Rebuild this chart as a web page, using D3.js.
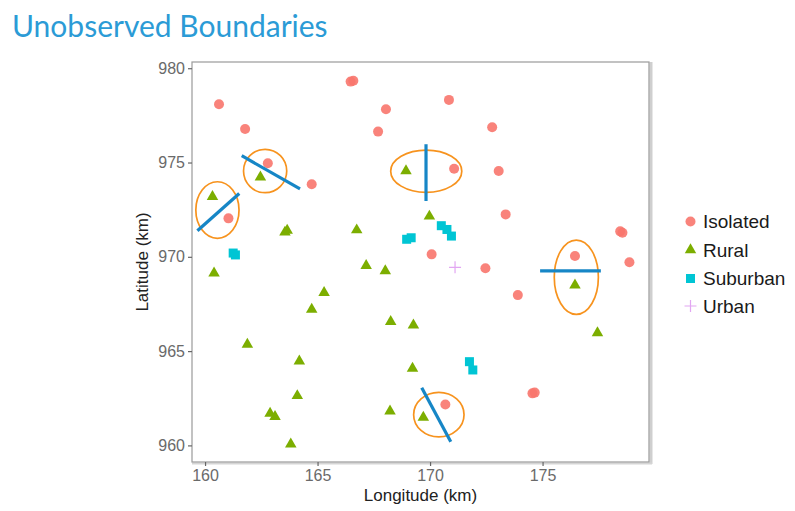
<!DOCTYPE html>
<html><head><meta charset="utf-8">
<script src="https://cdn.jsdelivr.net/npm/d3@7"></script>
<style>body{margin:0;background:#fff}</style>
</head><body><svg id="c" width="795" height="511"></svg>
<script>
const categories = ["Isolated","Rural","Suburban","Urban"];
const colors = ["#F8766D","#7CAE00","#00C5D4","#E2A6F2"];

const isolatedLon = [160.62,161.78,162.79,164.74,161.04,166.47,166.59,168.04,167.69,170.84,172.76,171.07,173.05,173.36,178.45,178.55,170.07,176.44,178.86,172.46,173.9,174.55,174.65,170.68];
const isolatedLat = [978.09,976.78,974.96,973.85,972.04,979.29,979.34,977.82,976.64,978.32,976.87,974.67,974.55,972.25,971.35,971.28,970.13,970.04,969.71,969.39,967.97,962.76,962.8,962.17];

const ruralLon = [160.33,162.46,163.55,163.65,166.74,168.93,169.97,160.4,167.16,168.01,165.29,164.74,168.25,169.26,161.88,164.19,169.22,164.1,162.89,163.11,168.22,163.81,176.44,177.44,169.7];
const ruralLat = [973.19,974.22,971.3,971.4,971.42,974.55,972.15,969.13,969.53,969.25,968.1,967.21,966.56,966.38,965.36,964.47,964.08,962.63,961.7,961.52,961.82,960.07,968.5,965.97,961.48];

const suburbanLon = [161.25,161.35,168.96,169.16,170.5,170.75,170.95,171.75,171.9];
const suburbanLat = [970.2,970.1,970.93,971.01,971.65,971.45,971.1,964.44,964.0];

const urbanLon = [171.11];
const urbanLat = [969.44];

// ellipse centres and radii (km)
const ellipseLon = [160.55,162.67,169.83,176.5,170.39];
const ellipseLat = [972.48,974.55,974.54,968.92,961.63];
const ellipseRLon = [0.96,0.96,1.58,0.98,1.12];
const ellipseRLat = [1.5,1.15,1.12,1.97,1.18];

// boundary segments (km)
const segLon1 = [159.66,161.63,169.82,174.89,169.63];
const segLat1 = [971.38,975.36,975.97,969.25,963.06];
const segLon2 = [161.52,164.22,169.82,177.59,170.92];
const segLat2 = [973.36,973.6,972.96,969.25,960.19];

const xTicks = [160,165,170,175];
const yTicks = [960,965,970,975,980];

const svg = d3.select("#c");
const x = d3.scaleLinear().domain([159.42,179.73]).range([192,649]);
const y = d3.scaleLinear().domain([959.12,980.33]).range([462,62]);

// title
svg.append("text").attr("x",12).attr("y",37).text("Unobserved Boundaries")
  .attr("font-family","Lato, 'Open Sans', sans-serif").attr("font-size",30)
  .attr("fill","#2b9bd6");

// panel
svg.append("line").attr("x1",x.range()[1]+2).attr("x2",x.range()[1]+2)
  .attr("y1",y.range()[1]).attr("y2",y.range()[0]+2).attr("stroke","#cfcfcf").attr("stroke-width",3);
svg.append("line").attr("x1",x.range()[0]).attr("x2",x.range()[1]+3)
  .attr("y1",y.range()[0]+1.5).attr("y2",y.range()[0]+1.5).attr("stroke","#d5d5d5").attr("stroke-width",2);
svg.append("rect").attr("x",x.range()[0]).attr("y",y.range()[1])
  .attr("width",x.range()[1]-x.range()[0]).attr("height",y.range()[0]-y.range()[1])
  .attr("fill","#fff").attr("stroke","#9a9a9a").attr("stroke-width",1.2);

// axes
const ax = svg.append("g").attr("transform",`translate(0,${y.range()[0]})`)
  .call(d3.axisBottom(x).tickValues(xTicks).tickSize(4).tickPadding(4));
const ay = svg.append("g").attr("transform",`translate(${x.range()[0]},0)`)
  .call(d3.axisLeft(y).tickValues(yTicks).tickSize(4).tickPadding(3));
[ax,ay].forEach(g=>{
  g.select(".domain").remove();
  g.selectAll(".tick line").attr("stroke","#666").attr("stroke-width",1.2);
  g.selectAll(".tick text").attr("fill","#6a6a6a").attr("font-size",16)
    .attr("font-family","'Liberation Sans', Arial, sans-serif");
});

svg.append("text").attr("x",(x.range()[0]+x.range()[1])/2).attr("y",501)
  .attr("text-anchor","middle").text("Longitude (km)")
  .attr("font-family","'Liberation Sans', Arial, sans-serif").attr("font-size",17).attr("fill","#222");
svg.append("text").attr("transform",`translate(148,${(y.range()[0]+y.range()[1])/2}) rotate(-90)`)
  .attr("text-anchor","middle").text("Latitude (km)")
  .attr("font-family","'Liberation Sans', Arial, sans-serif").attr("font-size",17).attr("fill","#222");

const plot = svg.append("g");

function drawSeries(lon, lat, idx){
  const pts = lon.map((d,i)=>({lon:d, lat:lat[i]}));
  const g = plot.append("g");
  pts.forEach(p=>drawMark(g, x(p.lon), y(p.lat), idx));
}
function drawMark(g, cx, cy, idx){
  const c = colors[idx];
  if(idx===0){
    g.append("circle").attr("cx",cx).attr("cy",cy).attr("r",5).attr("fill",c).attr("opacity",0.9);
  } else if(idx===1){
    const s=11.5, h=s*Math.sqrt(3)/2;
    g.append("path").attr("d",`M${cx},${cy-h*2/3}L${cx+s/2},${cy+h/3}L${cx-s/2},${cy+h/3}Z`).attr("fill",c);
  } else if(idx===2){
    g.append("rect").attr("x",cx-4.5).attr("y",cy-4.5).attr("width",9).attr("height",9).attr("fill",c);
  } else {
    g.append("path").attr("d",`M${cx-6},${cy}H${cx+6}M${cx},${cy-6}V${cy+6}`).attr("stroke",c).attr("stroke-width",1.2).attr("fill","none");
  }
}
drawSeries(isolatedLon, isolatedLat, 0);
drawSeries(ruralLon, ruralLat, 1);
drawSeries(suburbanLon, suburbanLat, 2);
drawSeries(urbanLon, urbanLat, 3);

// ellipses
ellipseLon.forEach((d,i)=>{
  plot.append("ellipse").attr("cx",x(d)).attr("cy",y(ellipseLat[i]))
    .attr("rx",x(d+ellipseRLon[i])-x(d)).attr("ry",y(ellipseLat[i])-y(ellipseLat[i]+ellipseRLat[i]))
    .attr("fill","none").attr("stroke","#f7931e").attr("stroke-width",1.7);
});
// segments
segLon1.forEach((d,i)=>{
  plot.append("line").attr("x1",x(d)).attr("y1",y(segLat1[i]))
    .attr("x2",x(segLon2[i])).attr("y2",y(segLat2[i]))
    .attr("stroke","#1686c6").attr("stroke-width",3.2);
});

// legend
const lg = svg.append("g");
const rowY = [221.5,250,278.5,306];
categories.forEach((c,i)=>{
  drawMark(lg, 690.5, rowY[i], i);
  lg.append("text").attr("x",703).attr("y",rowY[i]+6.5).text(c)
    .attr("font-family","'Liberation Sans', Arial, sans-serif").attr("font-size",19).attr("fill","#1a1a1a");
});
</script></body></html>
